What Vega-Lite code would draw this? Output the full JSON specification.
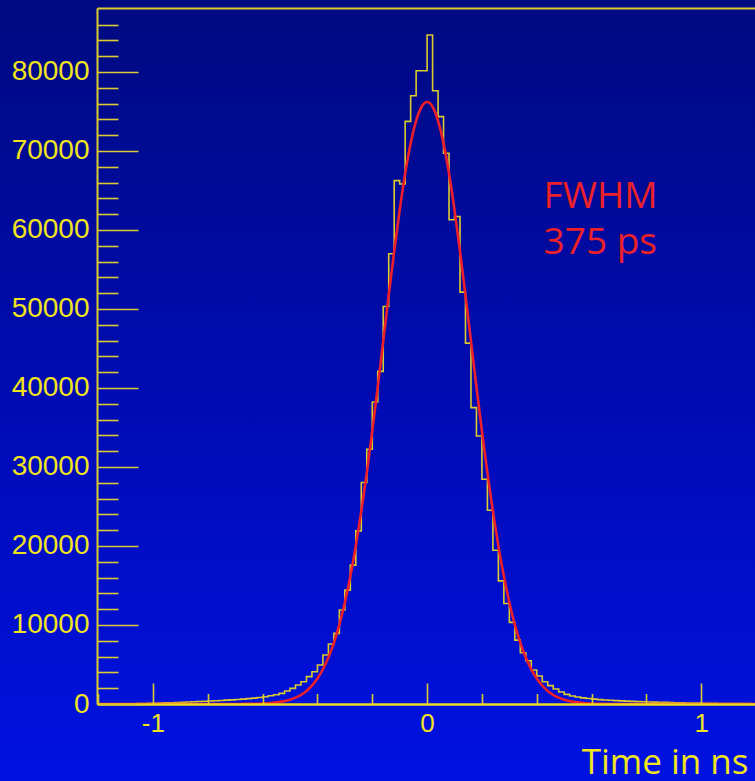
{
  "$schema": "https://vega.github.io/schema/vega-lite/v6.json",
  "width": 658,
  "height": 696,
  "autosize": {"type": "none"},
  "padding": {"left": 97, "top": 8, "right": 0, "bottom": 77},
  "background": "#000ea8",
  "config": {"view": {"stroke": null}, "axis": {"grid": false}},
  "datasets": {
    "hist": [
      {"t": -1.2, "n": 15}, {"t": -1.18, "n": 18}, {"t": -1.16, "n": 20}, {"t": -1.14, "n": 25}, {"t": -1.12, "n": 30},
      {"t": -1.1, "n": 35}, {"t": -1.08, "n": 40}, {"t": -1.06, "n": 50}, {"t": -1.04, "n": 60}, {"t": -1.02, "n": 75},
      {"t": -1.0, "n": 100}, {"t": -0.98, "n": 120}, {"t": -0.96, "n": 140}, {"t": -0.94, "n": 160}, {"t": -0.92, "n": 190},
      {"t": -0.9, "n": 220}, {"t": -0.88, "n": 250}, {"t": -0.86, "n": 280}, {"t": -0.84, "n": 320}, {"t": -0.82, "n": 350},
      {"t": -0.8, "n": 380}, {"t": -0.78, "n": 410}, {"t": -0.76, "n": 450}, {"t": -0.74, "n": 490}, {"t": -0.72, "n": 520},
      {"t": -0.7, "n": 570}, {"t": -0.68, "n": 620}, {"t": -0.66, "n": 680}, {"t": -0.64, "n": 750}, {"t": -0.62, "n": 820},
      {"t": -0.6, "n": 920}, {"t": -0.58, "n": 1040}, {"t": -0.56, "n": 1180}, {"t": -0.54, "n": 1350}, {"t": -0.52, "n": 1640},
      {"t": -0.5, "n": 1980}, {"t": -0.48, "n": 2400}, {"t": -0.46, "n": 2820}, {"t": -0.44, "n": 3460}, {"t": -0.42, "n": 4090},
      {"t": -0.4, "n": 4930}, {"t": -0.38, "n": 6200}, {"t": -0.36, "n": 7590}, {"t": -0.34, "n": 8940}, {"t": -0.32, "n": 11890},
      {"t": -0.3, "n": 14410}, {"t": -0.28, "n": 17580}, {"t": -0.26, "n": 21910}, {"t": -0.24, "n": 28030}, {"t": -0.22, "n": 32240},
      {"t": -0.2, "n": 38220}, {"t": -0.18, "n": 42100}, {"t": -0.16, "n": 50320}, {"t": -0.14, "n": 56990}, {"t": -0.12, "n": 66250},
      {"t": -0.1, "n": 65830}, {"t": -0.08, "n": 73750}, {"t": -0.06, "n": 77000}, {"t": -0.04, "n": 80160}, {"t": -0.02, "n": 80160},
      {"t": 0.0, "n": 84680}, {"t": 0.02, "n": 77630}, {"t": 0.04, "n": 74350}, {"t": 0.06, "n": 69710}, {"t": 0.08, "n": 61290},
      {"t": 0.1, "n": 61700}, {"t": 0.12, "n": 52130}, {"t": 0.14, "n": 45680}, {"t": 0.16, "n": 37510}, {"t": 0.18, "n": 33920},
      {"t": 0.2, "n": 28450}, {"t": 0.22, "n": 24530}, {"t": 0.24, "n": 19470}, {"t": 0.26, "n": 15590}, {"t": 0.28, "n": 12730},
      {"t": 0.3, "n": 10330}, {"t": 0.32, "n": 8090}, {"t": 0.34, "n": 6490}, {"t": 0.36, "n": 5480}, {"t": 0.38, "n": 4300},
      {"t": 0.4, "n": 3540}, {"t": 0.42, "n": 2820}, {"t": 0.44, "n": 2320}, {"t": 0.46, "n": 1900}, {"t": 0.48, "n": 1520},
      {"t": 0.5, "n": 1220}, {"t": 0.52, "n": 1010}, {"t": 0.54, "n": 880}, {"t": 0.56, "n": 780}, {"t": 0.58, "n": 690},
      {"t": 0.6, "n": 620}, {"t": 0.62, "n": 560}, {"t": 0.64, "n": 510}, {"t": 0.66, "n": 470}, {"t": 0.68, "n": 430},
      {"t": 0.7, "n": 390}, {"t": 0.72, "n": 360}, {"t": 0.74, "n": 330}, {"t": 0.76, "n": 300}, {"t": 0.78, "n": 280},
      {"t": 0.8, "n": 260}, {"t": 0.82, "n": 240}, {"t": 0.84, "n": 220}, {"t": 0.86, "n": 200}, {"t": 0.88, "n": 180},
      {"t": 0.9, "n": 165}, {"t": 0.92, "n": 150}, {"t": 0.94, "n": 135}, {"t": 0.96, "n": 120}, {"t": 0.98, "n": 110},
      {"t": 1.0, "n": 100}, {"t": 1.02, "n": 90}, {"t": 1.04, "n": 80}, {"t": 1.06, "n": 70}, {"t": 1.08, "n": 65},
      {"t": 1.1, "n": 60}, {"t": 1.12, "n": 55}, {"t": 1.14, "n": 50}, {"t": 1.16, "n": 45}, {"t": 1.18, "n": 40},
      {"t": 1.2, "n": 40}
    ],
    "fit": [
      {"t": -1.2, "f": 0}, {"t": -0.9, "f": 0}, {"t": -0.8, "f": 1}, {"t": -0.74, "f": 2}, {"t": -0.7, "f": 5},
      {"t": -0.66, "f": 14}, {"t": -0.62, "f": 38}, {"t": -0.58, "f": 98}, {"t": -0.54, "f": 238}, {"t": -0.5, "f": 543},
      {"t": -0.48, "f": 800}, {"t": -0.46, "f": 1160}, {"t": -0.44, "f": 1657}, {"t": -0.42, "f": 2327}, {"t": -0.4, "f": 3219},
      {"t": -0.38, "f": 4382}, {"t": -0.36, "f": 5872}, {"t": -0.34, "f": 7746}, {"t": -0.32, "f": 10057}, {"t": -0.3, "f": 12850},
      {"t": -0.28, "f": 16164}, {"t": -0.26, "f": 20013}, {"t": -0.24, "f": 24389}, {"t": -0.22, "f": 29256}, {"t": -0.2, "f": 34544},
      {"t": -0.18, "f": 40148}, {"t": -0.16, "f": 45930}, {"t": -0.14, "f": 51715}, {"t": -0.12, "f": 57313}, {"t": -0.1, "f": 62527},
      {"t": -0.08, "f": 67140}, {"t": -0.06, "f": 70964}, {"t": -0.04, "f": 73827}, {"t": -0.02, "f": 75600}, {"t": 0.0, "f": 76200},
      {"t": 0.02, "f": 75600}, {"t": 0.04, "f": 73827}, {"t": 0.06, "f": 70964}, {"t": 0.08, "f": 67140}, {"t": 0.1, "f": 62527},
      {"t": 0.12, "f": 57313}, {"t": 0.14, "f": 51715}, {"t": 0.16, "f": 45930}, {"t": 0.18, "f": 40148}, {"t": 0.2, "f": 34544},
      {"t": 0.22, "f": 29256}, {"t": 0.24, "f": 24389}, {"t": 0.26, "f": 20013}, {"t": 0.28, "f": 16164}, {"t": 0.3, "f": 12850},
      {"t": 0.32, "f": 10057}, {"t": 0.34, "f": 7746}, {"t": 0.36, "f": 5872}, {"t": 0.38, "f": 4382}, {"t": 0.4, "f": 3219},
      {"t": 0.42, "f": 2327}, {"t": 0.44, "f": 1657}, {"t": 0.46, "f": 1160}, {"t": 0.48, "f": 800}, {"t": 0.5, "f": 543},
      {"t": 0.54, "f": 238}, {"t": 0.58, "f": 98}, {"t": 0.62, "f": 38}, {"t": 0.66, "f": 14}, {"t": 0.7, "f": 5},
      {"t": 0.74, "f": 2}, {"t": 0.8, "f": 1}, {"t": 0.9, "f": 0}, {"t": 1.2, "f": 0}
    ]
  },
  "resolve": {"axis": {"x": "independent", "y": "independent"}},
  "layer": [
    {
      "data": {"values": [{}]},
      "mark": {
        "type": "rect",
        "clip": false,
        "fill": {
          "gradient": "linear",
          "x1": 0, "y1": 0, "x2": 0, "y2": 1,
          "stops": [
            {"offset": 0, "color": "#000a80"},
            {"offset": 0.5, "color": "#000bb2"},
            {"offset": 1, "color": "#0012e2"}
          ]
        }
      },
      "encoding": {
        "x": {"datum": -1.6, "type": "quantitative", "scale": {"domain": [-1.204, 1.196], "nice": false, "zero": false}, "axis": null},
        "x2": {"datum": 1.3},
        "y": {"datum": 89200, "type": "quantitative", "scale": {"domain": [0, 88100], "nice": false, "zero": false}, "axis": null},
        "y2": {"datum": -9800}
      }
    },
    {
      "data": {"name": "hist"},
      "mark": {"type": "line", "interpolate": "step-after", "stroke": "#dccb2e", "strokeWidth": 1.6},
      "encoding": {
        "x": {
          "field": "t", "type": "quantitative",
          "scale": {"domain": [-1.204, 1.196], "nice": false, "zero": false},
          "axis": {
            "orient": "bottom",
            "zindex": 1,
            "values": [-1.2, -1, -0.8, -0.6, -0.4, -0.2, 0, 0.2, 0.4, 0.6, 0.8, 1],
            "grid": false,
            "domainColor": "#ecdc22", "domainWidth": 2.5,
            "tickColor": "#dccb30", "tickWidth": 1.6,
            "tickSize": {"condition": {"test": "abs(datum.value - round(datum.value)) < 0.001", "value": -21}, "value": -10.5},
            "labelExpr": "abs(datum.value - round(datum.value)) < 0.001 ? '' + datum.value : ''",
            "labelFont": "Liberation Sans", "labelFontSize": 26, "labelColor": "#f2e41c",
            "labelPadding": 27, "labelOverlap": false, "labelFlush": false, "labelBound": false,
            "title": "Time in ns",
            "titleFont": "Open Sans", "titleFontSize": 35, "titleFontWeight": "normal", "titleColor": "#f2e41c",
            "titleAlign": "right", "titleBaseline": "alphabetic", "titleAnchor": "end",
            "titleX": 651, "titleY": 69
          }
        },
        "y": {
          "field": "n", "type": "quantitative",
          "scale": {"domain": [0, 88100], "nice": false, "zero": false},
          "axis": {
            "orient": "left",
            "zindex": 1,
            "values": [0, 2000, 4000, 6000, 8000, 10000, 12000, 14000, 16000, 18000, 20000, 22000, 24000, 26000, 28000, 30000, 32000, 34000, 36000, 38000, 40000, 42000, 44000, 46000, 48000, 50000, 52000, 54000, 56000, 58000, 60000, 62000, 64000, 66000, 68000, 70000, 72000, 74000, 76000, 78000, 80000, 82000, 84000, 86000],
            "grid": false,
            "title": null,
            "domainColor": "#dccb30", "domainWidth": 2,
            "tickColor": "#dccb30", "tickWidth": 1.6,
            "tickSize": {"condition": {"test": "datum.value % 10000 === 0", "value": -41}, "value": -21},
            "labelExpr": "datum.value % 10000 === 0 ? '' + datum.value : ''",
            "labelFont": "Liberation Sans", "labelFontSize": 28, "labelColor": "#f2e41c",
            "labelPadding": 49, "labelOverlap": false, "labelBound": false, "labelFlush": false
          }
        }
      }
    },
    {
      "data": {"name": "fit"},
      "mark": {"type": "line", "interpolate": "monotone", "stroke": "#ee1f2a", "strokeWidth": 2.6},
      "encoding": {
        "x": {"field": "t", "type": "quantitative", "scale": {"domain": [-1.204, 1.196], "nice": false, "zero": false}, "axis": null},
        "y": {"field": "f", "type": "quantitative", "scale": {"domain": [0, 88100], "nice": false, "zero": false}, "axis": null}
      }
    },
    {
      "data": {"values": [{}]},
      "mark": {
        "type": "text",
        "text": ["FWHM", "375 ps"],
        "align": "left",
        "baseline": "alphabetic",
        "font": "Open Sans",
        "fontSize": 37,
        "lineHeight": 46,
        "color": "#ec2129"
      },
      "encoding": {
        "x": {
          "datum": 0.425, "type": "quantitative",
          "scale": {"domain": [-1.204, 1.196], "nice": false, "zero": false},
          "axis": {"orient": "top", "zindex": 1, "ticks": false, "labels": false, "title": null, "grid": false, "domain": true, "domainColor": "#dccb30", "domainWidth": 2}
        },
        "y": {"datum": 62800, "type": "quantitative", "scale": {"domain": [0, 88100], "nice": false, "zero": false}, "axis": null}
      }
    }
  ]
}
